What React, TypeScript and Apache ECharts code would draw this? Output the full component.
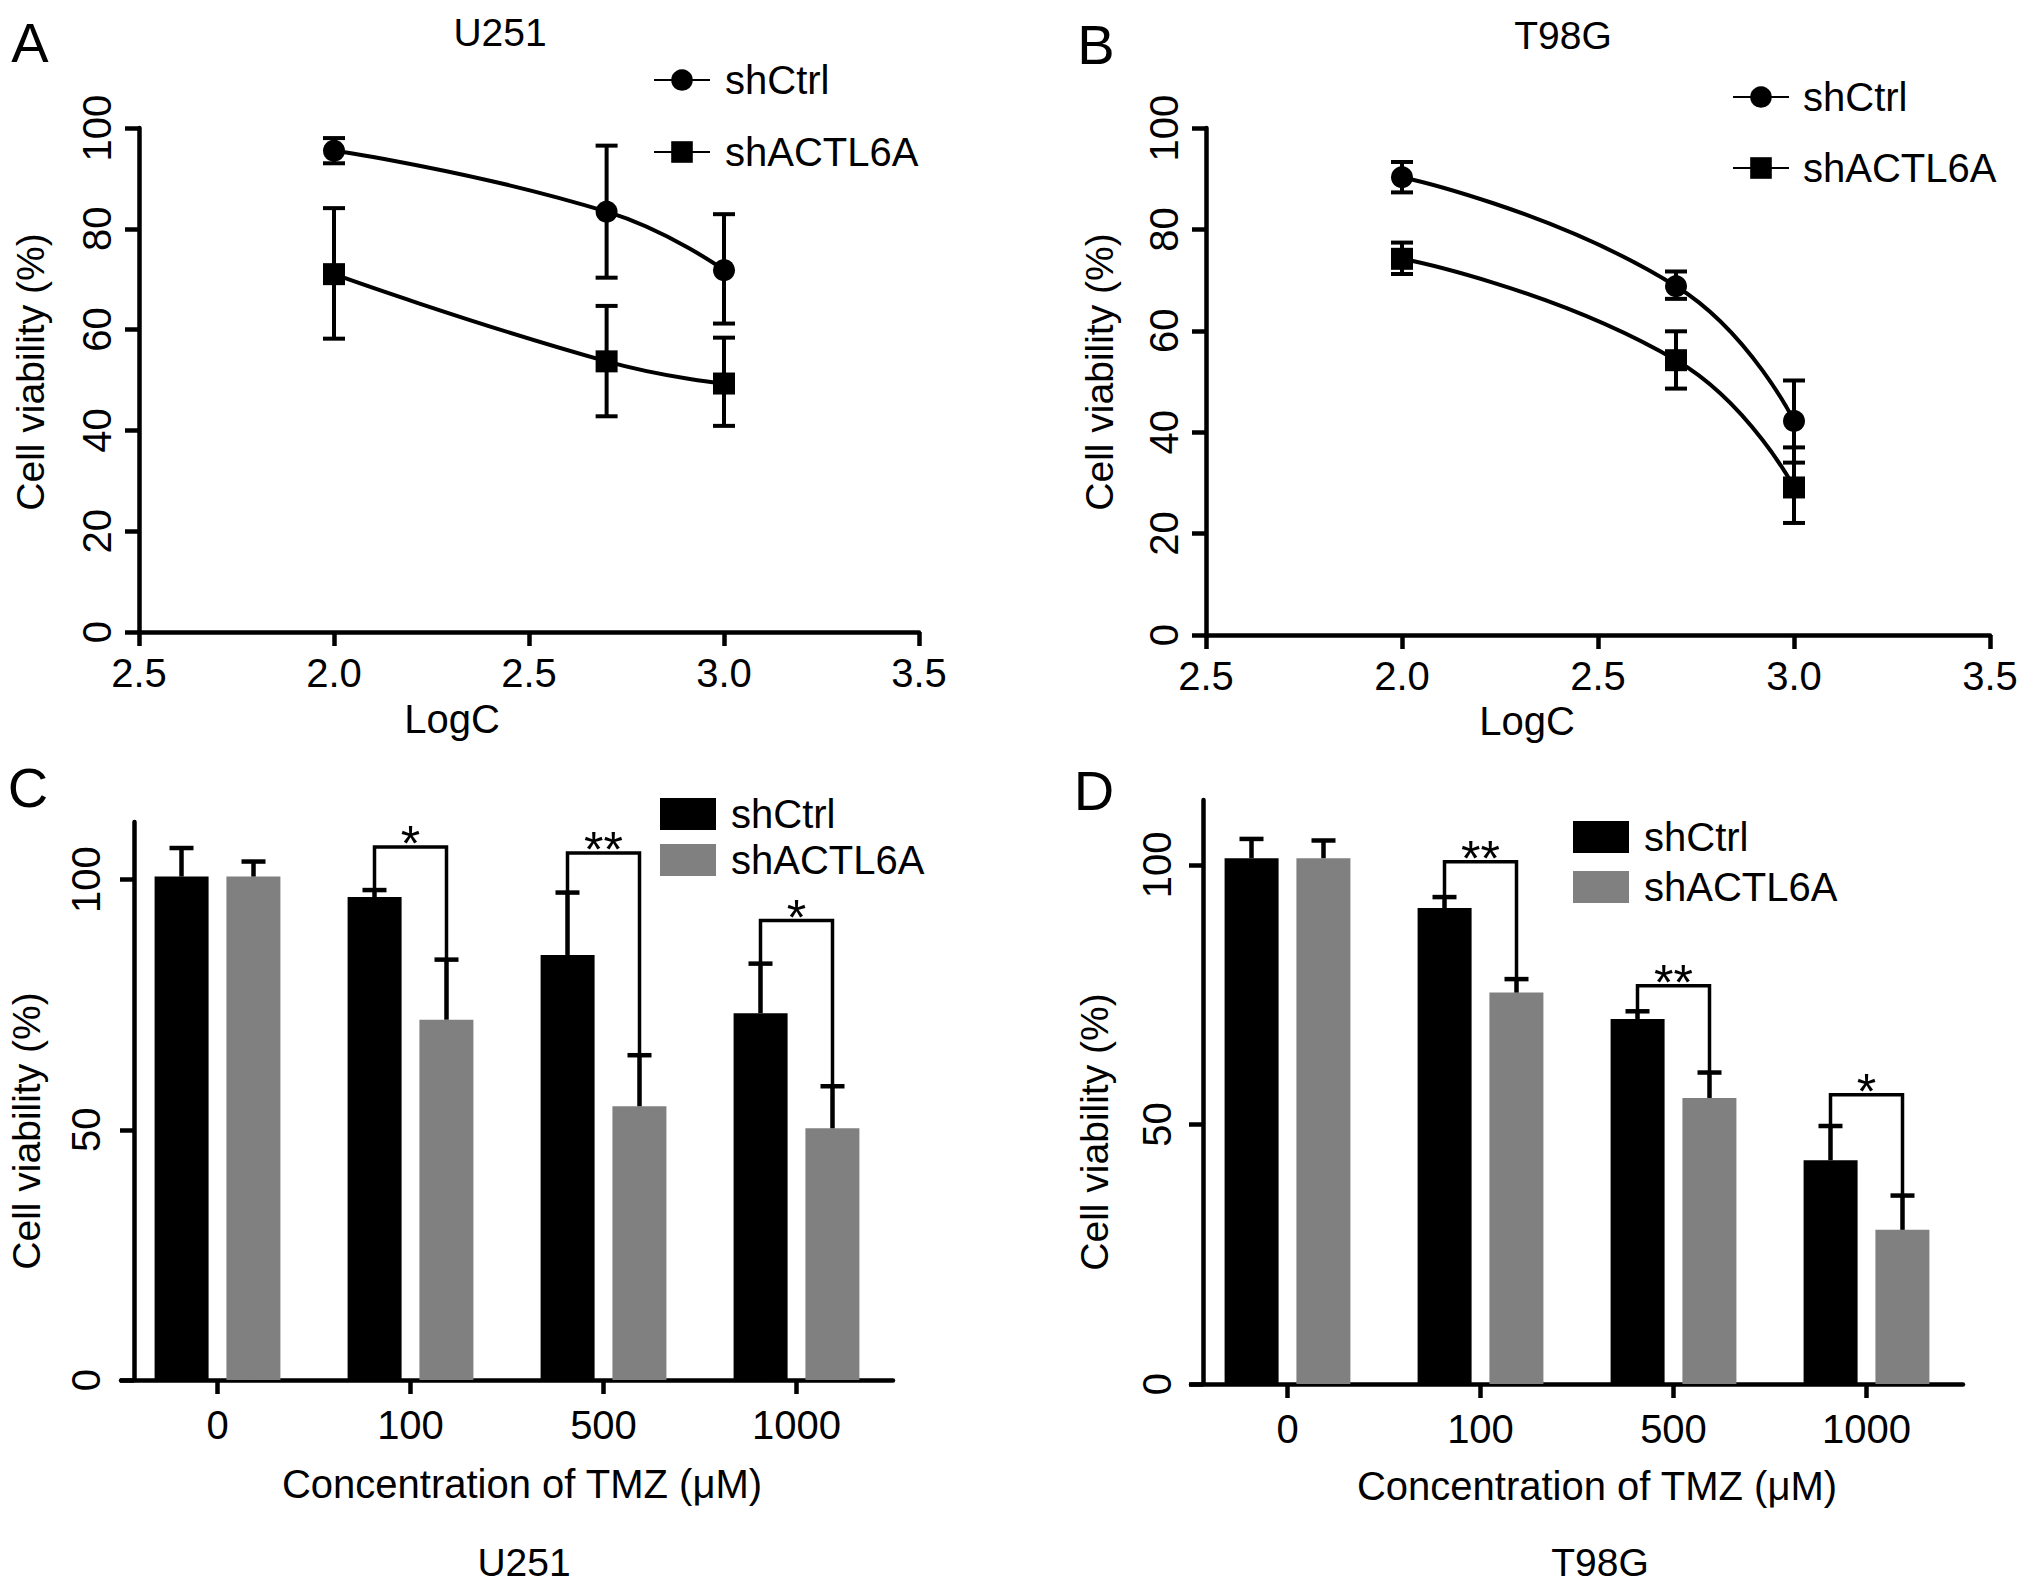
import { useEffect, useRef } from 'react'
import * as echarts from 'echarts'

const FONT = '"Liberation Sans", Arial, Helvetica, sans-serif'
const INK = '#000'
const GREY = '#808080'

// ---- A/B: cell viability vs log10 of TMZ concentration ----
const logC = [2.0, 2.699, 3.0]
// tick labels exactly as printed on the figure (first one reads 2.5)
const logTickLabels = ['2.5', '2.0', '2.5', '3.0', '3.5']

const u251CtrlMean = [95.5, 83.4, 71.8]
const u251CtrlLow = [93.0, 70.3, 61.2]
const u251CtrlHigh = [98.0, 96.5, 82.9]
const u251KdMean = [71.0, 53.7, 49.3]
const u251KdLow = [58.2, 42.8, 40.9]
const u251KdHigh = [84.1, 64.7, 58.4]

const t98gCtrlMean = [90.3, 68.8, 42.2]
const t98gCtrlLow = [87.3, 66.3, 34.0]
const t98gCtrlHigh = [93.3, 71.7, 50.2]
const t98gKdMean = [74.2, 54.2, 29.1]
const t98gKdLow = [71.2, 48.6, 22.1]
const t98gKdHigh = [77.4, 59.9, 37.0]

// ---- C/D: bars per TMZ dose ----
const tmzDoses = ['0', '100', '500', '1000']

const u251BarCtrl = [100.6, 96.5, 84.9, 73.3]
const u251BarCtrlErr = [106.3, 97.9, 97.4, 83.2]
const u251BarKd = [100.6, 72.0, 54.7, 50.3]
const u251BarKdErr = [103.6, 84.0, 64.9, 58.7]
const u251SigDose = [1, 2, 3]
const u251SigTop = [106.5, 105.3, 91.8]
const u251SigMark = ['*', '**', '*']

const t98gBarCtrl = [101.3, 91.7, 70.3, 43.1]
const t98gBarCtrlErr = [105.0, 93.8, 71.8, 49.7]
const t98gBarKd = [101.3, 75.4, 55.1, 29.7]
const t98gBarKdErr = [104.7, 78.0, 60.0, 36.3]
const t98gSigDose = [1, 2, 3]
const t98gSigTop = [100.6, 76.7, 55.7]
const t98gSigMark = ['**', '**', '*']

const BAR_W = 54
const BAR_SHIFT = 36 // half of bar width + half of the gap between the pair

const axisLine = { show: true, onZero: false, lineStyle: { color: INK, width: 4.5 } }
const axisTick = { show: true, inside: false, length: 14, lineStyle: { color: INK, width: 4.5 } }

function label(text: string, x: number, y: number, size: number, rotation = 0) {
  return {
    type: 'text',
    x,
    y,
    rotation,
    style: {
      text,
      fill: INK,
      font: `${size}px ${FONT}`,
      textAlign: 'center',
      textVerticalAlign: 'middle',
    },
  }
}

/** whiskers for the dose-response points: vertical line with caps at both ends */
function whiskers(low: number[], high: number[]) {
  return {
    type: 'custom',
    silent: true,
    z: 3,
    data: logC.map((x, i) => [x, low[i], high[i]]),
    encode: { x: 0, y: [1, 2] },
    renderItem: (_p: any, api: any) => {
      const lo = api.coord([api.value(0), api.value(1)])
      const hi = api.coord([api.value(0), api.value(2)])
      const half = 11
      const style = { stroke: INK, lineWidth: 4 }
      return {
        type: 'group',
        children: [
          { type: 'line', shape: { x1: lo[0], y1: lo[1], x2: hi[0], y2: hi[1] }, style },
          { type: 'line', shape: { x1: lo[0] - half, y1: lo[1], x2: lo[0] + half, y2: lo[1] }, style },
          { type: 'line', shape: { x1: hi[0] - half, y1: hi[1], x2: hi[0] + half, y2: hi[1] }, style },
        ],
      }
    },
  }
}

interface CurvePanel {
  letter: [string, number, number]
  title: [string, number, number]
  xName: [number, number]
  yName: [number, number]
  grid: { left: number; top: number; width: number; height: number }
  legend: { left: number; top: number; itemGap: number; textGap: number }
  ctrl: [number[], number[], number[]]
  kd: [number[], number[], number[]]
}

function curveOption(p: CurvePanel): echarts.EChartsOption {
  const line = (name: string, symbol: string, mean: number[]) => ({
    name,
    type: 'line',
    data: logC.map((x, i) => [x, mean[i]]),
    smooth: 0.5,
    symbol,
    symbolSize: 22,
    itemStyle: { color: INK },
    lineStyle: { color: INK, width: 4 },
    z: 4,
  })
  return {
    animation: false,
    textStyle: { fontFamily: FONT },
    grid: { ...p.grid, containLabel: false, outerBoundsMode: 'none' } as any,
    xAxis: {
      type: 'value',
      min: 1.5,
      max: 3.5,
      interval: 0.5,
      axisLine,
      axisTick,
      splitLine: { show: false },
      axisLabel: {
        color: INK,
        fontSize: 40,
        fontFamily: FONT,
        margin: 21,
        formatter: (v: number) => logTickLabels[Math.round((v - 1.5) / 0.5)],
      },
    },
    yAxis: {
      type: 'value',
      min: 0,
      max: 100,
      interval: 20,
      axisLine,
      axisTick,
      splitLine: { show: false },
      axisLabel: { color: INK, fontSize: 40, fontFamily: FONT, rotate: 90, margin: 22 },
    },
    legend: {
      orient: 'vertical',
      left: p.legend.left,
      top: p.legend.top,
      padding: 0,
      itemGap: p.legend.itemGap,
      itemWidth: 56,
      itemHeight: 27,
      selectedMode: false,
      data: ['shCtrl', 'shACTL6A'],
      textStyle: {
        color: INK,
        fontSize: 40,
        fontFamily: FONT,
        lineHeight: 27,
        padding: [0, 0, 0, p.legend.textGap],
      },
    },
    series: [
      line('shCtrl', 'circle', p.ctrl[0]),
      line('shACTL6A', 'rect', p.kd[0]),
      whiskers(p.ctrl[1], p.ctrl[2]),
      whiskers(p.kd[1], p.kd[2]),
    ] as any,
    graphic: [
      label(p.letter[0], p.letter[1], p.letter[2], 56),
      label(p.title[0], p.title[1], p.title[2], 39),
      label('LogC', p.xName[0], p.xName[1], 40),
      label('Cell viability (%)', p.yName[0], p.yName[1], 39, Math.PI / 2),
    ] as any,
  }
}

interface BarPanel {
  letter: [string, number, number]
  title: [string, number, number]
  xName: [number, number]
  yName: [number, number]
  grid: { left: number; top: number; width: number; height: number }
  yOffset: number
  yMax: number
  yLabelMargin: number
  legend: { left: number; top: number; itemGap: number }
  ctrl: number[]
  ctrlErr: number[]
  kd: number[]
  kdErr: number[]
  sigDose: number[]
  sigTop: number[]
  sigMark: string[]
}

/** upper-only error bar sitting on a bar, shifted to the left or right bar of the pair */
function barErrors(mean: number[], err: number[], shift: number) {
  return {
    type: 'custom',
    silent: true,
    z: 3,
    data: mean.map((m, i) => [i, m, err[i]]),
    encode: { x: 0, y: [1, 2] },
    renderItem: (_p: any, api: any) => {
      const top = api.coord([api.value(0), api.value(2)])
      const base = api.coord([api.value(0), api.value(1)])
      const x = top[0] + shift
      const style = { stroke: INK, lineWidth: 4.5 }
      return {
        type: 'group',
        children: [
          { type: 'line', shape: { x1: x, y1: base[1], x2: x, y2: top[1] }, style },
          { type: 'line', shape: { x1: x - 12, y1: top[1], x2: x + 12, y2: top[1] }, style },
        ],
      }
    },
  }
}

function brackets(p: BarPanel) {
  return {
    type: 'custom',
    silent: true,
    z: 5,
    data: p.sigDose.map((d, i) => [d, p.sigTop[i], p.ctrlErr[d], p.kdErr[d]]),
    encode: { x: 0, y: [1, 2, 3] },
    renderItem: (params: any, api: any) => {
      const c = api.coord([api.value(0), api.value(1)])
      const l = api.coord([api.value(0), api.value(2)])
      const r = api.coord([api.value(0), api.value(3)])
      const x0 = c[0] - BAR_SHIFT
      const x1 = c[0] + BAR_SHIFT
      return {
        type: 'group',
        children: [
          {
            type: 'polyline',
            shape: { points: [[x0, l[1]], [x0, c[1]], [x1, c[1]], [x1, r[1]]] },
            style: { stroke: INK, lineWidth: 3.5, fill: 'none' },
          },
          {
            type: 'text',
            x: c[0],
            y: c[1] - 3,
            style: {
              text: p.sigMark[params.dataIndex],
              fill: INK,
              font: `50px ${FONT}`,
              textAlign: 'center',
              textVerticalAlign: 'middle',
            },
          },
        ],
      }
    },
  }
}

function barOption(p: BarPanel): echarts.EChartsOption {
  return {
    animation: false,
    textStyle: { fontFamily: FONT },
    grid: { ...p.grid, containLabel: false, outerBoundsMode: 'none' } as any,
    xAxis: {
      type: 'category',
      data: tmzDoses,
      axisLine,
      axisTick: { ...axisTick, alignWithLabel: true },
      axisLabel: { color: INK, fontSize: 40, fontFamily: FONT, margin: 25 },
    },
    yAxis: {
      type: 'value',
      min: 0,
      max: p.yMax,
      interval: 50,
      offset: p.yOffset,
      axisLine,
      axisTick: { ...axisTick, customValues: [0, 50, 100] },
      splitLine: { show: false },
      axisLabel: {
        color: INK,
        fontSize: 40,
        fontFamily: FONT,
        rotate: 90,
        margin: p.yLabelMargin,
        customValues: [0, 50, 100],
      },
    } as any,
    legend: {
      orient: 'vertical',
      left: p.legend.left,
      top: p.legend.top,
      padding: 0,
      itemGap: p.legend.itemGap,
      itemWidth: 56,
      itemHeight: 32,
      selectedMode: false,
      data: [
        { name: 'shCtrl', icon: 'rect' },
        { name: 'shACTL6A', icon: 'rect' },
      ],
      textStyle: { color: INK, fontSize: 40, fontFamily: FONT, lineHeight: 32, padding: [0, 0, 0, 10] },
    },
    series: [
      { name: 'shCtrl', type: 'bar', data: p.ctrl, barWidth: BAR_W, barGap: '33%', itemStyle: { color: INK } },
      { name: 'shACTL6A', type: 'bar', data: p.kd, barWidth: BAR_W, itemStyle: { color: GREY } },
      barErrors(p.ctrl, p.ctrlErr, -BAR_SHIFT),
      barErrors(p.kd, p.kdErr, BAR_SHIFT),
      brackets(p),
    ] as any,
    graphic: [
      label(p.letter[0], p.letter[1], p.letter[2], 56),
      label('Concentration of TMZ (μM)', p.xName[0], p.xName[1], 40),
      label(p.title[0], p.title[1], p.title[2], 39),
      label('Cell viability (%)', p.yName[0], p.yName[1], 39, Math.PI / 2),
    ] as any,
  }
}

const panelA = curveOption({
  letter: ['A', 30, 42],
  title: ['U251', 500, 32],
  xName: [452, 719],
  yName: [30, 372],
  grid: { left: 139, top: 128, width: 780, height: 504 },
  legend: { left: 653, top: 60, itemGap: 32, textGap: 10 },
  ctrl: [u251CtrlMean, u251CtrlLow, u251CtrlHigh],
  kd: [u251KdMean, u251KdLow, u251KdHigh],
})

const panelB = curveOption({
  letter: ['B', 81, 44],
  title: ['T98G', 548, 35],
  xName: [512, 721],
  yName: [84, 372],
  grid: { left: 191, top: 128, width: 784, height: 507 },
  legend: { left: 717, top: 77, itemGap: 31, textGap: 9 },
  ctrl: [t98gCtrlMean, t98gCtrlLow, t98gCtrlHigh],
  kd: [t98gKdMean, t98gKdLow, t98gKdHigh],
})

// bottom panels start at y = 740 of the page
const panelC = barOption({
  letter: ['C', 28, 47],
  title: ['U251', 524, 822],
  xName: [522, 744],
  yName: [26, 391],
  grid: { left: 121, top: 82, width: 772, height: 558 },
  yOffset: -13,
  yMax: 111.5,
  yLabelMargin: 28,
  legend: { left: 660, top: 54, itemGap: 6 },
  ctrl: u251BarCtrl,
  ctrlErr: u251BarCtrlErr,
  kd: u251BarKd,
  kdErr: u251BarKdErr,
  sigDose: u251SigDose,
  sigTop: u251SigTop,
  sigMark: u251SigMark,
})

const panelD = barOption({
  letter: ['D', 79, 50],
  title: ['T98G', 585, 822],
  xName: [582, 746],
  yName: [79, 392],
  grid: { left: 176, top: 60, width: 772, height: 584 },
  yOffset: -12,
  yMax: 112.5,
  yLabelMargin: 26,
  legend: { left: 558, top: 77, itemGap: 10 },
  ctrl: t98gBarCtrl,
  ctrlErr: t98gBarCtrlErr,
  kd: t98gBarKd,
  kdErr: t98gBarKdErr,
  sigDose: t98gSigDose,
  sigTop: t98gSigTop,
  sigMark: t98gSigMark,
})

interface Box {
  left: number
  top: number
  width: number
  height: number
}

function Panel({ option, box }: { option: echarts.EChartsOption; box: Box }) {
  const ref = useRef<HTMLDivElement>(null)

  useEffect(() => {
    if (!ref.current) return
    const chart = echarts.init(ref.current, undefined, { renderer: 'svg' })
    chart.setOption(option)
    return () => chart.dispose()
  }, [option])

  return <div ref={ref} style={{ position: 'absolute', ...box }} />
}

export default function App() {
  useEffect(() => {
    document.body.style.margin = '0'
  }, [])

  return (
    <div style={{ position: 'relative', width: 2031, height: 1587, background: '#fff' }}>
      <Panel option={panelA} box={{ left: 0, top: 0, width: 1015, height: 760 }} />
      <Panel option={panelB} box={{ left: 1015, top: 0, width: 1016, height: 760 }} />
      <Panel option={panelC} box={{ left: 0, top: 740, width: 1015, height: 847 }} />
      <Panel option={panelD} box={{ left: 1015, top: 740, width: 1016, height: 847 }} />
    </div>
  )
}
